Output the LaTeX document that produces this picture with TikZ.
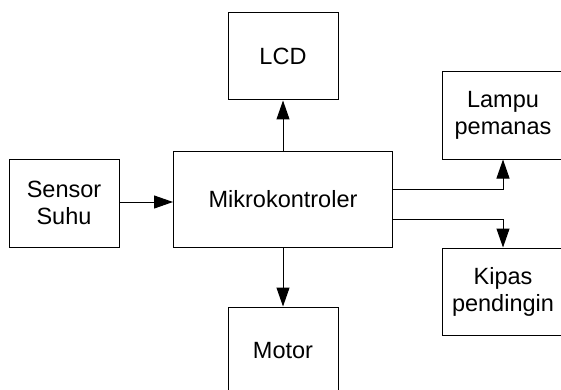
\documentclass[tikz,border=0pt]{standalone}
\usepackage{fontspec}
\setmainfont{Liberation Sans}
\usetikzlibrary{arrows.meta}
\begin{document}
\begin{tikzpicture}[x=1pt,y=-1pt,
  blok/.style={draw=black,line width=1pt,inner sep=0pt,align=center,
    font=\fontsize{23.5}{27}\selectfont},
  arr/.style={line width=1pt,-{Triangle[length=19pt,width=13pt]}}]
\useasboundingbox (0,0) rectangle (561,390);
\clip (0,0) rectangle (561,390);
\node[blok,minimum width=110pt,minimum height=88pt] (sensor) at (64,203) {Sensor\\Suhu};
\node[blok,minimum width=219pt,minimum height=96pt] (mikro) at (283,199) {Mikrokontroler};
\node[blok,minimum width=110pt,minimum height=87pt] (lcd) at (283,56.5) {LCD};
\node[blok,minimum width=110pt,minimum height=87pt] (motor) at (283,350.5) {Motor};
\node[blok,minimum width=122pt,minimum height=87pt] (lampu) at (503,115.5) {Lampu\\pemanas};
\node[blok,minimum width=122pt,minimum height=87pt] (kipas) at (503,291.5) {Kipas\\pendingin};
\coordinate (o1) at (mikro.east |- 0,189);
\coordinate (o2) at (mikro.east |- 0,219);
\draw[arr] (sensor.east |- 0,202) -- (mikro.west |- 0,202);
\draw[arr] (mikro.north) -- (lcd.south);
\draw[arr] (mikro.south) -- (motor.north);
\draw[arr] (o1) -| (lampu.south);
\draw[arr] (o2) -| (kipas.north);
\end{tikzpicture}
\end{document}
